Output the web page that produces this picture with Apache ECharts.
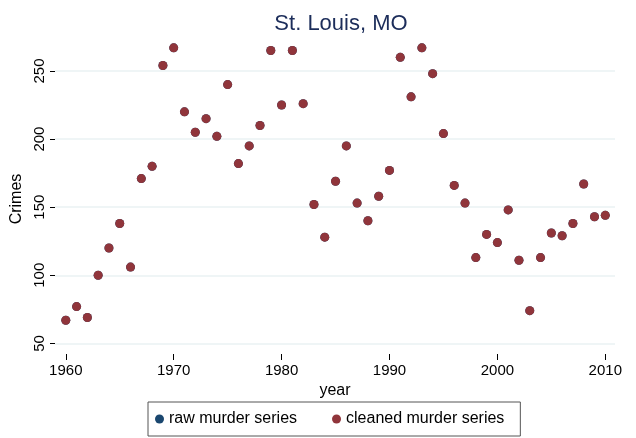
<!DOCTYPE html>
<html>
<head>
<meta charset="utf-8">
<script src="https://cdn.jsdelivr.net/npm/echarts@6/dist/echarts.min.js"></script>
<style>html,body{margin:0;padding:0;background:#fff;}#c{width:636px;height:438px;}</style>
</head>
<body>
<div id="c"></div>
<script>
var years = [1960,1961,1962,1963,1964,1965,1966,1967,1968,1969,1970,1971,1972,1973,1974,1975,1976,1977,1978,1979,1980,1981,1982,1983,1984,1985,1986,1987,1988,1989,1990,1991,1992,1993,1994,1995,1996,1997,1998,1999,2000,2001,2002,2003,2004,2005,2006,2007,2008,2009,2010];
var rawMurders = [67,77,69,100,120,138,106,171,180,254,267,220,205,215,202,240,182,195,210,265,225,265,226,152,128,169,195,153,140,158,177,260,231,267,248,204,166,153,113,130,124,148,111,74,113,131,129,138,167,143,144];
var cleanedMurders = [67,77,69,100,120,138,106,171,180,254,267,220,205,215,202,240,182,195,210,265,225,265,226,152,128,169,195,153,140,158,177,260,231,267,248,204,166,153,113,130,124,148,111,74,113,131,129,138,167,143,144];
var xTicks = [1960,1970,1980,1990,2000,2010];
var yTicks = [50,100,150,200,250];

function pairs(xs, ys){ return xs.map(function(x,i){ return [x, ys[i]]; }); }

var chart = echarts.init(document.getElementById('c'), null, {renderer:'canvas'});
var font = 'Liberation Sans, Arial, Helvetica, sans-serif';
chart.setOption({
  animation: false,
  backgroundColor: '#ffffff',
  title: {
    text: 'St. Louis, MO',
    left: 336, top: 8, textAlign: 'center',
    textStyle: {fontFamily: font, fontSize: 22, fontWeight: 'normal', color: '#1c2d5a'}
  },
  grid: {left: 55, right: 21, top: 44, bottom: 84, containLabel: false, outerBoundsMode: 'none'},
  xAxis: {
    type: 'value',
    min: 1959.0, max: 2010.9,
    name: 'year', nameLocation: 'middle', nameGap: 28,
    nameTextStyle: {fontFamily: font, fontSize: 16, color: '#000'},
    axisLine: {show: false},
    axisTick: {show: true, length: 6, lineStyle: {color: '#000', width: 1}, customValues: xTicks},
    axisLabel: {fontFamily: font, fontSize: 15, color: '#000', margin: 9, customValues: xTicks,
      formatter: function(v){ return String(Math.round(v)); }},
    splitLine: {show: false}
  },
  yAxis: {
    type: 'value',
    min: 42.2, max: 269.8,
    name: 'Crimes', nameLocation: 'middle', nameGap: 28,
    nameTextStyle: {fontFamily: font, fontSize: 16, color: '#000'},
    axisLine: {show: false},
    axisTick: {show: true, length: 5, lineStyle: {color: '#000', width: 1}, customValues: yTicks},
    axisLabel: {fontFamily: font, fontSize: 15, color: '#000', rotate: 90, margin: 8, customValues: yTicks,
      formatter: function(v){ return String(Math.round(v)); }},
    splitLine: {show: false}
  },
  legend: {
    left: 148, top: 402,
    data: ['raw murder series', 'cleaned murder series'],
    icon: 'circle', itemWidth: 9, itemHeight: 9, itemGap: 35,
    borderColor: '#555', borderWidth: 1, padding: [9, 16, 9, 7],
    textStyle: {fontFamily: font, fontSize: 16, color: '#000'}
  },
  series: [
    {
      name: 'raw murder series', type: 'scatter', symbolSize: 9,
      itemStyle: {color: '#1a476f', opacity: 1},
      data: pairs(years, rawMurders),
      markLine: {
        silent: true, symbol: 'none', label: {show: false},
        lineStyle: {color: '#eaf2f3', width: 1.5, type: 'solid'},
        emphasis: {disabled: true},
        data: yTicks.map(function(v){ return {yAxis: v}; }),
        z: 0
      },
      z: 2
    },
    {
      name: 'cleaned murder series', type: 'scatter', symbolSize: 9,
      itemStyle: {color: '#90353b', opacity: 1},
      data: pairs(years, cleanedMurders),
      z: 3
    }
  ]
});
</script>
</body>
</html>
